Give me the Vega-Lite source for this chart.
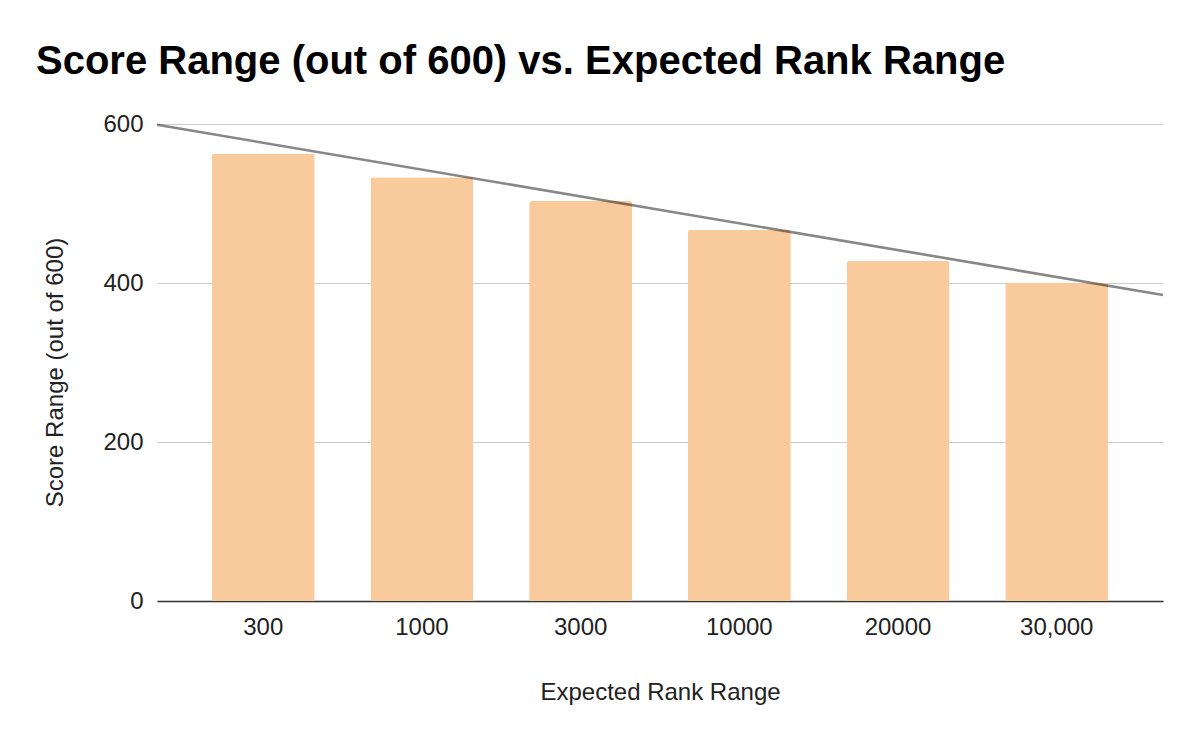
{
  "$schema": "https://vega.github.io/schema/vega-lite/v6.json",
  "autosize": {"type": "none"},
  "width": 1006,
  "height": 477,
  "padding": {"left": 157, "top": 124, "right": 37, "bottom": 141},
  "background": "white",
  "config": {
    "font": "Liberation Sans",
    "view": {"stroke": null}
  },
  "title": {
    "text": "Score Range (out of 600) vs. Expected Rank Range",
    "anchor": "start",
    "frame": "group",
    "font": "Liberation Sans",
    "fontSize": 40,
    "fontWeight": "bold",
    "color": "#000000",
    "dx": -121,
    "offset": 30
  },
  "layer": [
    {
      "data": {
        "values": [
          {"rank": "300", "score": 563},
          {"rank": "1000", "score": 533},
          {"rank": "3000", "score": 503},
          {"rank": "10000", "score": 467},
          {"rank": "20000", "score": 428},
          {"rank": "30,000", "score": 400}
        ]
      },
      "mark": {"type": "bar", "color": "#f9cb9c", "cornerRadiusTopLeft": 3, "cornerRadiusTopRight": 3},
      "encoding": {
        "x": {
          "field": "rank",
          "type": "nominal",
          "sort": null,
          "scale": {"paddingInner": 0.351, "paddingOuter": 0.345},
          "axis": {
            "title": "Expected Rank Range",
            "titleFont": "Liberation Sans",
            "titleFontSize": 24,
            "titleFontWeight": "normal",
            "titleColor": "#222222",
            "titleBaseline": "alphabetic",
            "titleY": 98,
            "labelFont": "Liberation Sans",
            "labelFontSize": 24,
            "labelColor": "#222222",
            "labelAngle": 0,
            "labelPadding": 14,
            "ticks": false,
            "tickSize": 0,
            "domainColor": "#333333",
            "domainWidth": 1.5,
            "grid": false
          }
        },
        "y": {
          "field": "score",
          "type": "quantitative",
          "scale": {"domain": [0, 600], "nice": false},
          "axis": {
            "title": "Score Range (out of 600)",
            "titleFont": "Liberation Sans",
            "titleFontSize": 24,
            "titleFontWeight": "normal",
            "titleColor": "#222222",
            "titleBaseline": "alphabetic",
            "titleX": -95,
            "titleY": 248,
            "values": [0, 200, 400, 600],
            "labelFont": "Liberation Sans",
            "labelFontSize": 24,
            "labelColor": "#222222",
            "labelPadding": 14,
            "ticks": false,
            "tickSize": 0,
            "domain": false,
            "grid": true,
            "gridColor": "#cccccc",
            "gridWidth": 1
          }
        }
      }
    },
    {
      "data": {
        "values": [
          {"pos": 0, "trend": 599},
          {"pos": 6, "trend": 385}
        ]
      },
      "mark": {"type": "line", "color": "#000000", "opacity": 0.47, "strokeWidth": 2.6, "strokeCap": "butt"},
      "encoding": {
        "x": {"field": "pos", "type": "quantitative", "scale": {"domain": [0, 6], "nice": false, "zero": false}, "axis": null},
        "y": {"field": "trend", "type": "quantitative"}
      }
    }
  ],
  "resolve": {"scale": {"x": "independent"}}
}
